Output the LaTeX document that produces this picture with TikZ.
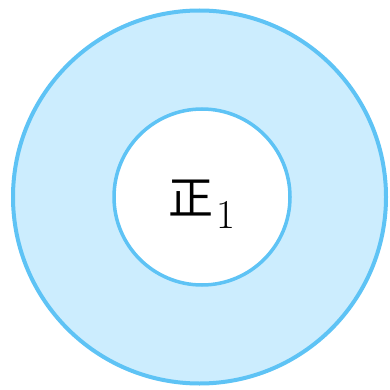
\documentclass[tikz,border=0pt]{standalone}
\usepackage{fontspec}
\newfontfamily\cjk{Noto Sans CJK SC}
\definecolor{ringfill}{HTML}{CCEDFE}
\definecolor{ringline}{HTML}{5EC3F5}
\begin{document}
\begin{tikzpicture}[x=1pt,y=-1pt,
  ring/.style={circle,draw=ringline,line width=4pt,inner sep=0pt}]
\useasboundingbox (0,0) rectangle (389,390);
\node[ring,fill=ringfill,minimum size=373pt] (outer) at (199.5,197) {};
\node[ring,fill=white,minimum size=176pt,line width=3.5pt] (inner) at (202,197) {};
\node[inner sep=0pt] (label) at (202,204) {\fontsize{45}{50}\selectfont{\cjk 正}\hspace{3pt}\raisebox{-14pt}{\fontsize{41}{48}\selectfont 1}};
\end{tikzpicture}
\end{document}
